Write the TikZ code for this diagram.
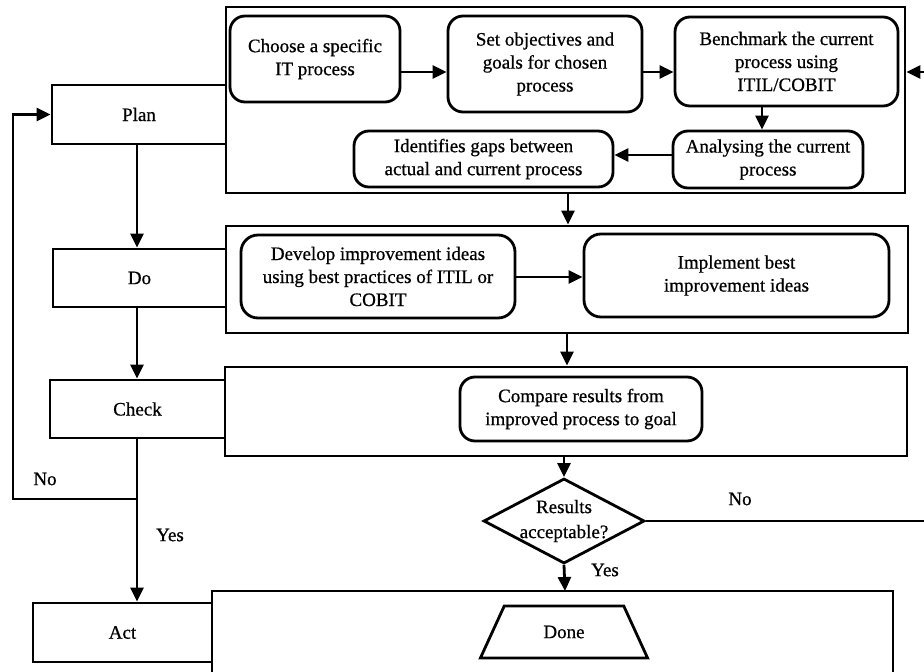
\documentclass[tikz,border=0pt]{standalone}
\usepackage{fontspec}
\setmainfont{Liberation Serif}[FakeBold=0.7]
\usetikzlibrary{shapes.geometric,arrows.meta,calc}
\begin{document}
\begin{tikzpicture}[x=1pt,y=-1pt,
  every node/.style={font=\fontsize{19}{23}\selectfont},
  lw/.style={line width=2.8pt},
  rbox/.style={draw, lw, rounded corners=15pt, align=center, inner sep=0pt},
  sbox/.style={draw, lw, align=center, inner sep=0pt},
  cont/.style={draw, lw, inner sep=0pt},
  arr/.style={lw, -{Triangle[length=14pt,width=13pt]}},
  plainline/.style={lw},
  lbl/.style={inner sep=0pt}
]
\useasboundingbox (0,0) rectangle (924,672);

% containers
\node[cont, minimum width=679, minimum height=186] (pc) at (565.5,100) {};
\node[cont, minimum width=682, minimum height=107] (dc) at (567,279.5) {};
\node[cont, minimum width=682, minimum height=89] (cc) at (566,411.5) {};
\draw[lw] (212,672) |- (893,591) -- (893,672);
\coordinate (acttop) at (565,591);

% stage boxes
\node[sbox, minimum width=174, minimum height=59] (plan) at (139,114.5) {Plan};
\node[sbox, minimum width=173, minimum height=58] (do) at (139.5,278) {Do};
\node[sbox, minimum width=175, minimum height=58] (check) at (137.5,409) {Check};
\node[sbox, minimum width=179, minimum height=59] (act) at (122.5,632.5) {Act};

% plan steps
\node[rbox, minimum width=170, minimum height=86] (choose) at (315,59) {Choose a specific\\IT process};
\node[rbox, minimum width=194, minimum height=96] (set) at (545,64) {Set objectives and\\goals for chosen\\process};
\node[rbox, minimum width=223, minimum height=89] (bench) at (786.5,61.5) {Benchmark the current\\process using\\ITIL/COBIT};
\node[rbox, minimum width=190, minimum height=57] (anal) at (768,159.5) {Analysing the current\\process};
\node[rbox, minimum width=259, minimum height=56] (ident) at (483.5,159) {Identifies gaps between\\actual and current process};

% do steps
\node[rbox, rounded corners=17pt, minimum width=274, minimum height=83] (develop) at (378,276.5) {Develop improvement ideas\\using best practices of ITIL or\\COBIT};
\node[rbox, rounded corners=17pt, minimum width=305, minimum height=83] (impl) at (736.5,275.5) {Implement best\\improvement ideas};

% check step
\node[rbox, minimum width=242, minimum height=64] (compare) at (581,409) {Compare results from\\improved process to goal};

% decision
\node[diamond, draw, lw, minimum width=161, minimum height=85, inner sep=0pt,
  label={[align=center, font=\fontsize{19}{25}\selectfont]center:{Results\\acceptable?}}] (dec) at (564,521) {};

% done
\node[trapezium, draw, lw, trapezium angle=57, trapezium stretches=true,
  minimum width=168, minimum height=52, inner sep=0pt] (done) at (564,632) {Done};

% off-picture coordinates
\coordinate (rin) at (924,72);
\coordinate (rout) at (924,521);
\coordinate (lj) at (137,499);
\coordinate (lc) at (13,499);

% connectors inside plan
\draw[arr] (choose.east |- 0,72) -- (set.west |- 0,72);
\draw[arr] (set.east |- 0,72) -- (bench.west |- 0,72);
\draw[arr] (bench.south -| 762,0) -- (anal.north -| 762,0);
\draw[arr] (anal.west |- 0,155) -- (ident.east |- 0,155);
\draw[arr] (rin) -- (pc.east |- rin);

% between containers
\draw[arr] (pc.south -| 568,0) -- (dc.north -| 568,0);
\draw[arr] (develop.east |- 0,277) -- (impl.west |- 0,277);
\draw[arr] (dc.south -| 567,0) -- (cc.north -| 567,0);
\draw[arr] (cc.south -| dec.north) -- (dec.north);
\draw[arr] (dec.south) -- (acttop);
\draw[plainline] (dec.east) -- (rout);

% left column
\draw[arr] (plan.south -| 137,0) -- (do.north -| 137,0);
\draw[arr] (do.south -| 137,0) -- (check.north -| 137,0);
\draw[arr] (check.south -| 137,0) -- (act.north -| 137,0);
\draw[arr] (lj) -- (lc) |- (plan.west);

% labels
\node[lbl] (no1) at (45,479) {No};
\node[lbl] (yes1) at (170,535) {Yes};
\node[lbl] (no2) at (740,499) {No};
\node[lbl] (yes2) at (605,570) {Yes};
\end{tikzpicture}
\end{document}
